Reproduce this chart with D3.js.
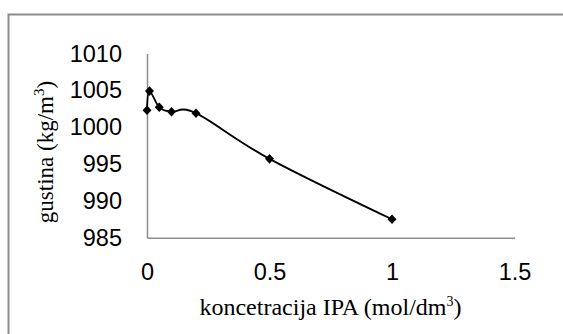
<!DOCTYPE html>
<html>
<head>
<meta charset="utf-8">
<script src="https://cdn.jsdelivr.net/npm/d3@7"></script>
<style>
  html, body { margin: 0; padding: 0; background: #fff; }
  svg { display: block; }
</style>
</head>
<body>
<svg id="chart" width="563" height="334"></svg>
<script>
// Data
const concentrations = [0, 0.01, 0.05, 0.1, 0.2, 0.5, 1];
const densities = [1002.3, 1004.9, 1002.7, 1002.1, 1001.9, 995.7, 987.5];
const xTicks = [0, 0.5, 1, 1.5];
const yTicks = [985, 990, 995, 1000, 1005, 1010];
const xTitle = "koncetracija IPA (mol/dm";
const yTitle = "gustina (kg/m";

const svg = d3.select("#chart");

// Outer border (extends beyond window at right/bottom)
svg.append("rect")
  .attr("x", 8.5).attr("y", 14.5)
  .attr("width", 570).attr("height", 330)
  .attr("fill", "none")
  .attr("stroke", "#8c8c8c")
  .attr("stroke-width", 2);

const x = d3.scaleLinear().domain([0, 1.5]).range([147, 514.5]);
const y = d3.scaleLinear().domain([985, 1010]).range([237.7, 53.5]);

const tickFont = "'Liberation Sans', Arial, sans-serif";
const titleFont = "'Liberation Serif', 'Times New Roman', serif";

// Y axis
const gy = svg.append("g")
  .attr("transform", `translate(${x(0)},0)`)
  .call(d3.axisLeft(y).tickValues(yTicks).tickSize(0).tickPadding(25).tickFormat(d3.format("d")));
gy.select(".domain").attr("stroke", "#8c8c8c").attr("stroke-width", 1.5);
gy.selectAll("text")
  .attr("font-family", tickFont)
  .attr("font-size", 23.5)
  .attr("fill", "#000");

// X axis
const gx = svg.append("g")
  .attr("transform", `translate(0,${y(985)})`)
  .call(d3.axisBottom(x).tickValues(xTicks).tickSize(0).tickPadding(26).tickFormat(d => String(d)));
gx.select(".domain").attr("stroke", "#8c8c8c").attr("stroke-width", 1.5);
gx.selectAll("text")
  .attr("font-family", tickFont)
  .attr("font-size", 23.5)
  .attr("fill", "#000");

// Line
const pts = concentrations.map((c, i) => [c, densities[i]]);
const line = d3.line()
  .x(d => x(d[0]))
  .y(d => y(d[1]))
  .curve(d3.curveCardinal.tension(0));
svg.append("path")
  .datum(pts)
  .attr("d", line)
  .attr("fill", "none")
  .attr("stroke", "#000")
  .attr("stroke-width", 1.8);

// Markers (diamonds)
svg.selectAll(".mk")
  .data(pts)
  .enter().append("path")
  .attr("class", "mk")
  .attr("transform", d => `translate(${x(d[0])},${y(d[1])})`)
  .attr("d", "M0,-4.8L4.5,0L0,4.8L-4.5,0Z")
  .attr("fill", "#000");

// X title
const xt = svg.append("text")
  .attr("x", 330.5).attr("y", 315)
  .attr("text-anchor", "middle")
  .attr("font-family", titleFont)
  .attr("font-size", 24)
  .attr("fill", "#000");
xt.append("tspan").text(xTitle);
xt.append("tspan").attr("font-size", 14).attr("dy", -9).text("3");
xt.append("tspan").attr("dy", 9).text(")");

// Y title
const yt = svg.append("text")
  .attr("transform", "translate(53,152) rotate(-90)")
  .attr("text-anchor", "middle")
  .attr("font-family", titleFont)
  .attr("font-size", 23)
  .attr("fill", "#000");
yt.append("tspan").text(yTitle);
yt.append("tspan").attr("font-size", 15).attr("dy", -9).text("3");
yt.append("tspan").attr("dy", 9).text(")");
</script>
</body>
</html>
